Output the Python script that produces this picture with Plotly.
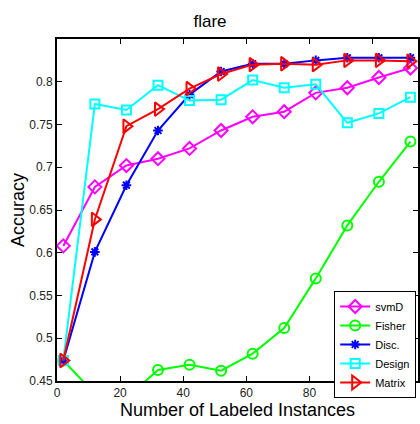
import plotly.graph_objects as go

x = [2, 12, 22, 32, 42, 52, 62, 72, 82, 92, 102, 112]
svmD = [0.608, 0.677, 0.702, 0.710, 0.722, 0.743, 0.759, 0.765, 0.787, 0.793, 0.805, 0.816]
fisher = [0.474, 0.435, 0.430, 0.463, 0.469, 0.462, 0.482, 0.512, 0.570, 0.632, 0.683, 0.730]
disc = [0.474, 0.601, 0.679, 0.743, 0.785, 0.812, 0.821, 0.821, 0.825, 0.828, 0.828, 0.828]
design = [0.474, 0.774, 0.767, 0.796, 0.778, 0.779, 0.802, 0.793, 0.797, 0.752, 0.763, 0.782]
matrix = [0.474, 0.639, 0.748, 0.768, 0.792, 0.809, 0.820, 0.821, 0.820, 0.825, 0.825, 0.824]

series = [
    ("svmD", svmD, "#ff00ff", "diamond-open", 10),
    ("Fisher", fisher, "#00ff00", "circle-open", 10),
    ("Disc.", disc, "#0000ff", "asterisk-open", 8),
    ("Design", design, "#00ffff", "square-open", 9),
    ("Matrix", matrix, "#ff0000", "triangle-right-open", 12),
]

font = "Liberation Sans, Arial, sans-serif"
fig = go.Figure()
for name, ys, col, sym, sz in series:
    fig.add_trace(go.Scatter(
        x=x, y=ys, name=name, mode="lines+markers",
        line=dict(color=col, width=2),
        marker=dict(symbol=sym, size=sz, color=col, line=dict(color=col, width=2)),
    ))

axis_common = dict(
    showline=True, linecolor="black", linewidth=2, mirror="allticks",
    ticks="inside", ticklen=5, tickcolor="black", tickwidth=1,
    showgrid=False, zeroline=False,
    tickfont=dict(family=font, size=12, color="#222"),
)
fig.update_layout(
    width=420, height=424,
    margin=dict(l=57, r=0, t=39, b=43),
    paper_bgcolor="white", plot_bgcolor="white",
    title=dict(text="flare", x=0.5, xanchor="center", y=1 - 21 / 424, yanchor="middle",
               font=dict(family=font, size=17, color="black")),
    xaxis=dict(range=[0, 114.4], tickvals=[0, 20, 40, 60, 80, 100],
               title=dict(text="Number of Labeled Instances", standoff=4,
                          font=dict(family=font, size=18, color="black")),
               **axis_common),
    yaxis=dict(range=[0.45, 0.85], tickvals=[0.45, 0.5, 0.55, 0.6, 0.65, 0.7, 0.75, 0.8],
               ticktext=["0.45", "0.5", "0.55", "0.6", "0.65", "0.7", "0.75", "0.8"],
               title=dict(text="Accuracy", standoff=0,
                          font=dict(family=font, size=18, color="black")),
               **axis_common),
    legend=dict(x=0.995, y=1 - (291 - 39) / 342, xanchor="right", yanchor="top",
                bgcolor="white", bordercolor="black", borderwidth=1,
                font=dict(family=font, size=11, color="black"),
                itemwidth=30, tracegroupgap=0),
    showlegend=True,
)
fig.write_html("out.html")
